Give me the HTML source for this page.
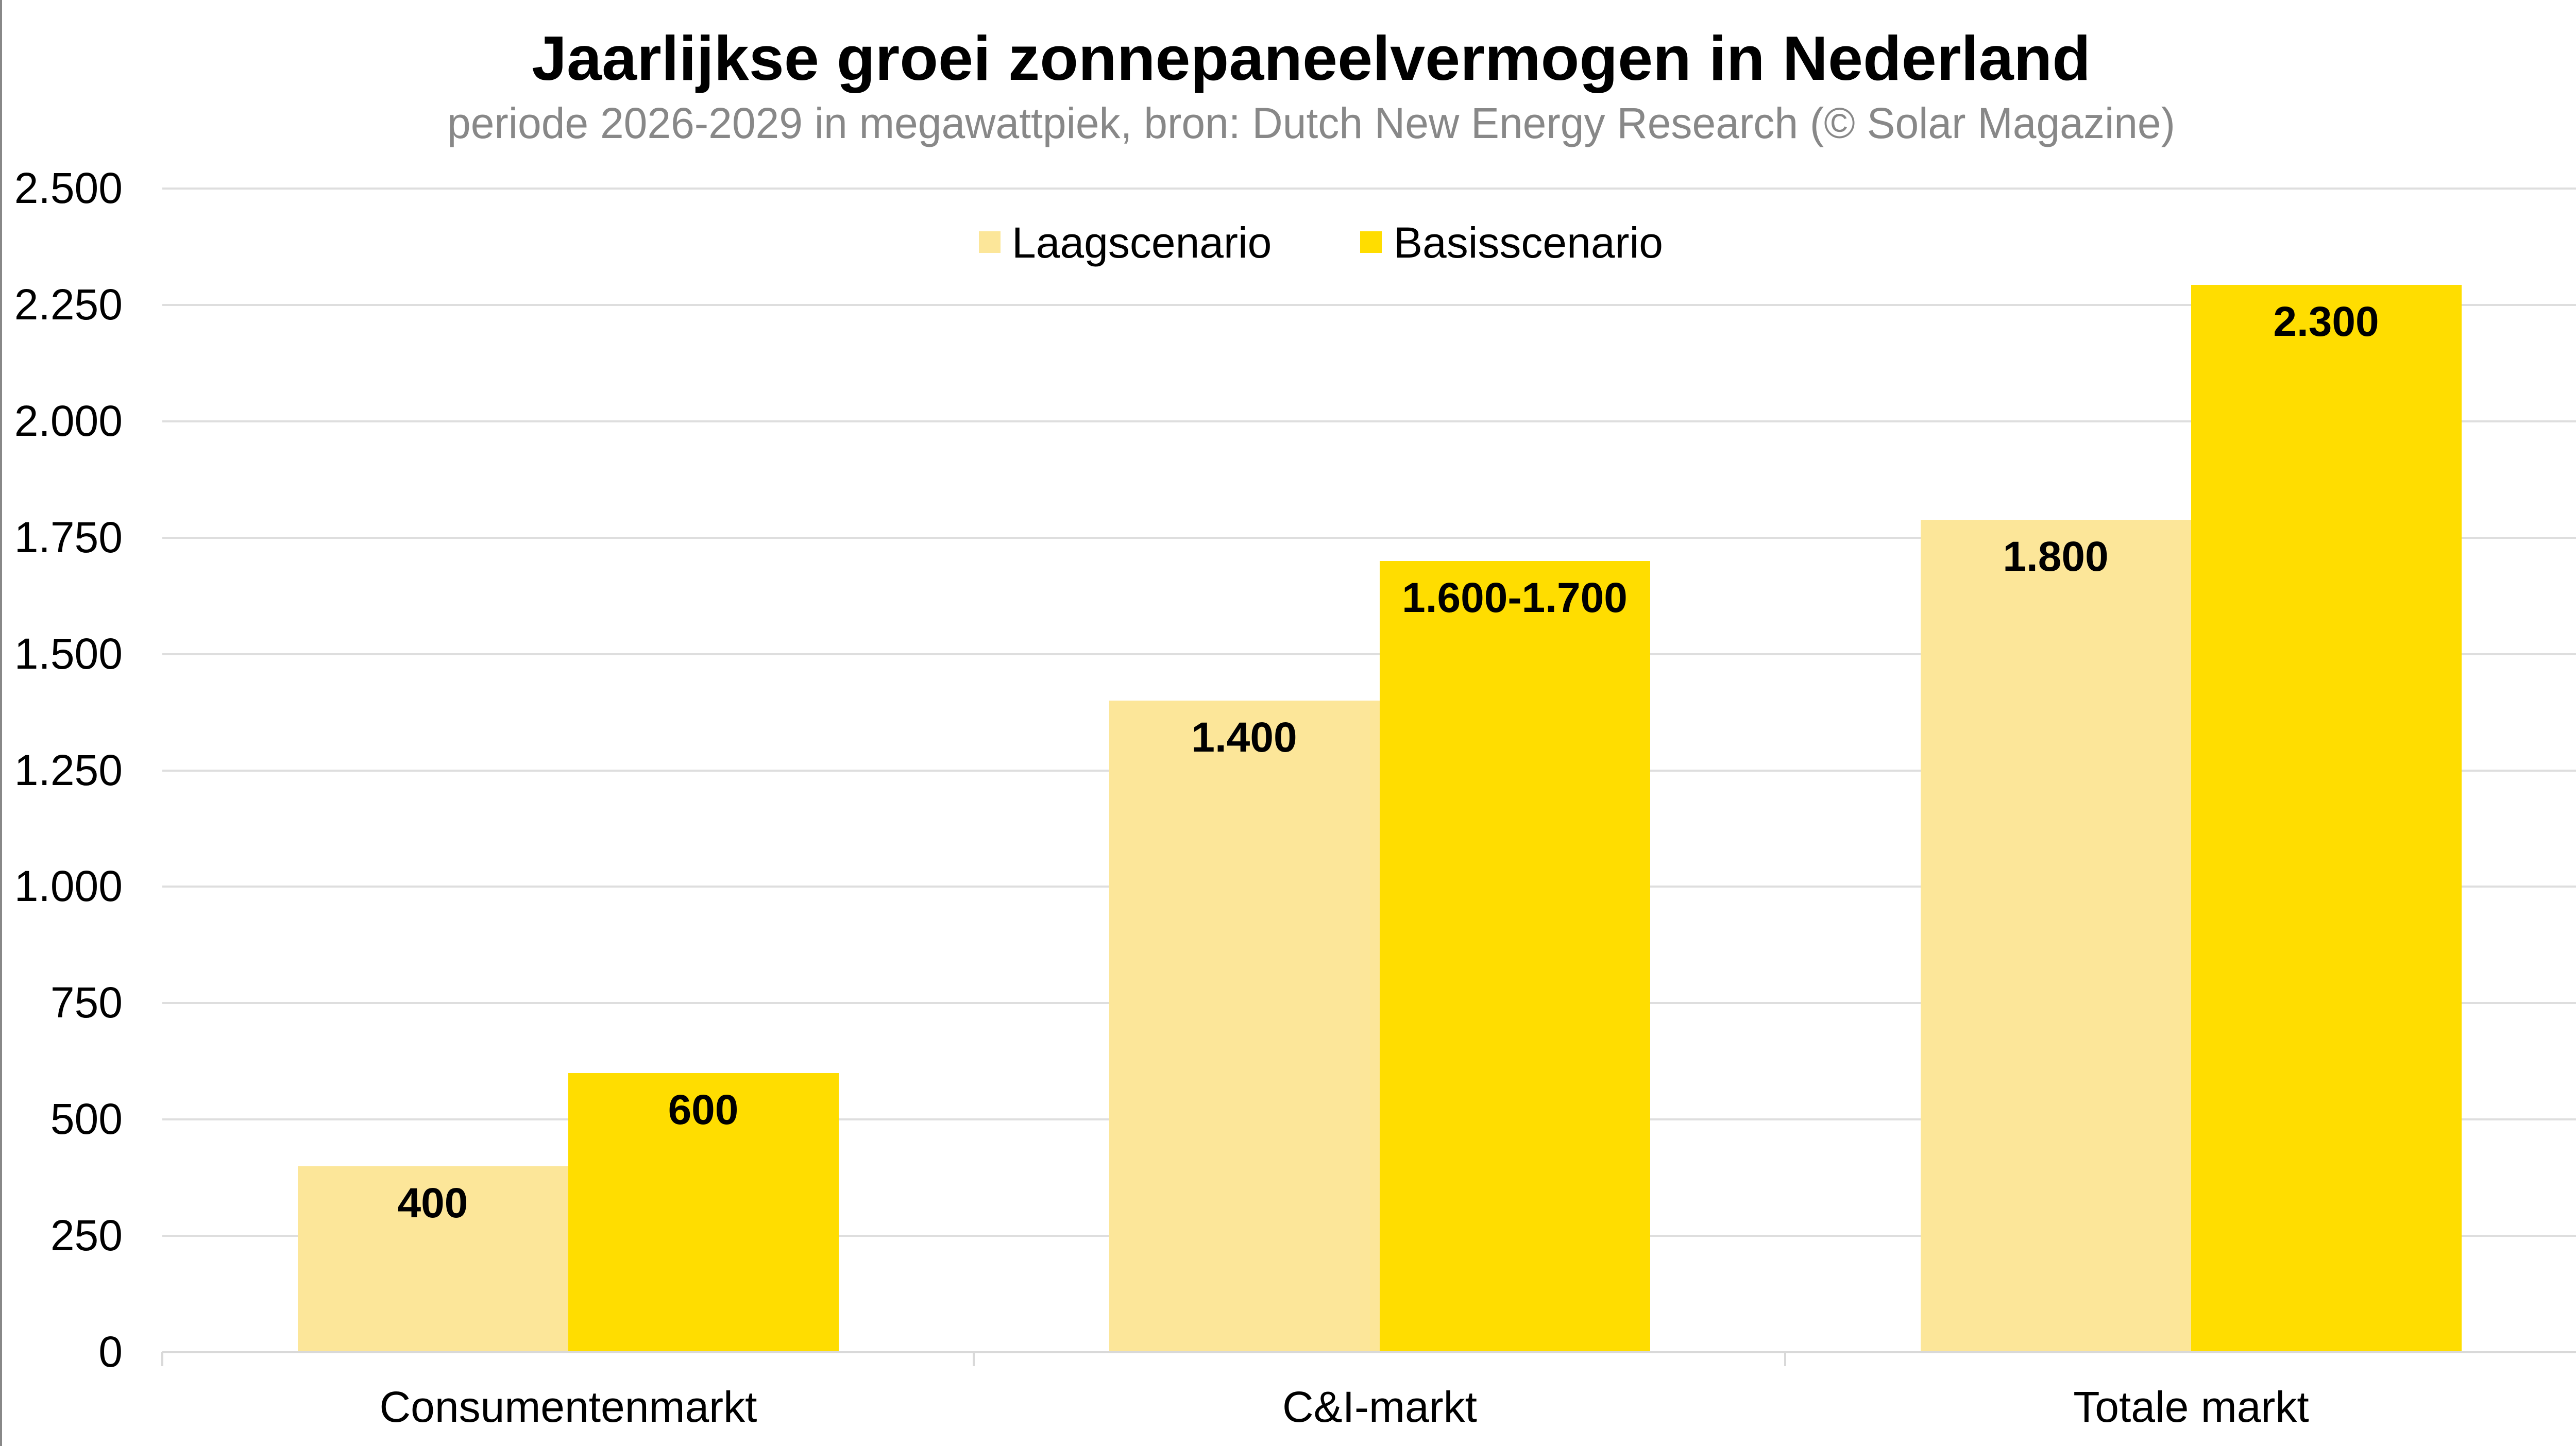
<!DOCTYPE html>
<html><head><meta charset="utf-8"><style>
html,body{margin:0;padding:0;background:#fff}
svg{display:block}
</style></head><body>
<svg width="5039" height="2807" viewBox="0 0 5039 2807" xmlns="http://www.w3.org/2000/svg" font-family="'Liberation Sans', sans-serif">
<rect width="5039" height="2807" fill="#fff"/>
<line x1="2" y1="0" x2="2" y2="2807" stroke="#888" stroke-width="4"/>
<text x="2545" y="155" text-anchor="middle" font-size="122" font-weight="bold" fill="#000" textLength="3026" lengthAdjust="spacingAndGlyphs">Jaarlijkse groei zonnepaneelvermogen in Nederland</text>
<text x="2545" y="268" text-anchor="middle" font-size="84" fill="#888" textLength="3354" lengthAdjust="spacingAndGlyphs">periode 2026-2029 in megawattpiek, bron: Dutch New Energy Research (© Solar Magazine)</text>
<g stroke="#dedede" stroke-width="4">
<line x1="315" y1="366" x2="5039" y2="366"/>
<line x1="315" y1="592" x2="5039" y2="592"/>
<line x1="315" y1="818" x2="5039" y2="818"/>
<line x1="315" y1="1044" x2="5039" y2="1044"/>
<line x1="315" y1="1270" x2="5039" y2="1270"/>
<line x1="315" y1="1496" x2="5039" y2="1496"/>
<line x1="315" y1="1721" x2="5039" y2="1721"/>
<line x1="315" y1="1947" x2="5039" y2="1947"/>
<line x1="315" y1="2173" x2="5039" y2="2173"/>
<line x1="315" y1="2399" x2="5039" y2="2399"/>
</g>
<g font-size="84" fill="#000" text-anchor="end">
<text x="238" y="394">2.500</text>
<text x="238" y="620">2.250</text>
<text x="238" y="846">2.000</text>
<text x="238" y="1072">1.750</text>
<text x="238" y="1298">1.500</text>
<text x="238" y="1524">1.250</text>
<text x="238" y="1749">1.000</text>
<text x="238" y="1975">750</text>
<text x="238" y="2201">500</text>
<text x="238" y="2427">250</text>
<text x="238" y="2653">0</text>
</g>
<rect x="1900" y="449" width="42" height="42" fill="#FCE699"/>
<text x="1964" y="500" font-size="84" fill="#000">Laagscenario</text>
<rect x="2640" y="449" width="42" height="42" fill="#FFDD00"/>
<text x="2705" y="500" font-size="84" fill="#000">Basisscenario</text>
<g>
<rect x="578" y="2264" width="525" height="361" fill="#FCE699"/>
<rect x="1103" y="2083" width="525" height="542" fill="#FFDD00"/>
<rect x="2153" y="1360" width="525" height="1265" fill="#FCE699"/>
<rect x="2678" y="1089" width="525" height="1536" fill="#FFDD00"/>
<rect x="3728" y="1009" width="525" height="1616" fill="#FCE699"/>
<rect x="4253" y="553" width="525" height="2072" fill="#FFDD00"/>
</g>
<g font-size="82" font-weight="bold" fill="#000" text-anchor="middle">
<text x="840" y="2363">400</text>
<text x="1365" y="2182">600</text>
<text x="2415" y="1459">1.400</text>
<text x="2940" y="1188">1.600-1.700</text>
<text x="3990" y="1108">1.800</text>
<text x="4515" y="652">2.300</text>
</g>
<g stroke="#d9d9d9" stroke-width="4">
<line x1="315" y1="2625" x2="5039" y2="2625"/>
<line x1="315" y1="2625" x2="315" y2="2652"/>
<line x1="1890" y1="2625" x2="1890" y2="2652"/>
<line x1="3465" y1="2625" x2="3465" y2="2652"/>
</g>
<g font-size="84" fill="#000" text-anchor="middle">
<text x="1103" y="2760">Consumentenmarkt</text>
<text x="2678" y="2760">C&amp;I-markt</text>
<text x="4253" y="2760">Totale markt</text>
</g>
</svg>
</body></html>
